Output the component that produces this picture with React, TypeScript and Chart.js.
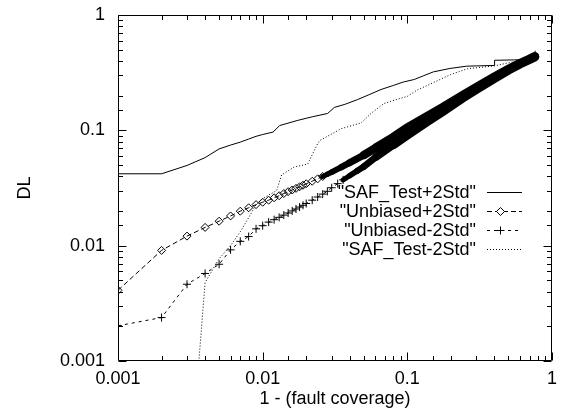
import { useEffect, useRef } from 'react';
import { Chart, registerables } from 'chart.js';

Chart.register(...registerables);

// ---- data ----
const seriesNames = ['"SAF_Test+2Std"', '"Unbiased+2Std"', '"Unbiased-2Std"', '"SAF_Test-2Std"'];
const xTickLabels = ['0.001', '0.01', '0.1', '1'];
const yTickLabels = ['0.001', '0.01', '0.1', '1'];
const xTitle = '1 - (fault coverage)';
const yTitle = 'DL';

const safPlusX = [0.001, 0.002, 0.003, 0.004, 0.005, 0.006, 0.007, 0.008, 0.009, 0.010, 0.0118, 0.0131, 0.0175, 0.022, 0.0281, 0.0313, 0.037, 0.0454, 0.055, 0.0658, 0.08, 0.0935, 0.1117, 0.13, 0.151, 0.197, 0.257, 0.30, 0.40, 0.401, 0.55, 0.68, 0.76, 0.765];
const safPlusY = [0.042, 0.042, 0.0496, 0.058, 0.069, 0.0745, 0.079, 0.084, 0.0887, 0.092, 0.0966, 0.110, 0.122, 0.131, 0.140, 0.158, 0.168, 0.185, 0.205, 0.226, 0.245, 0.262, 0.276, 0.298, 0.321, 0.344, 0.360, 0.362, 0.365, 0.405, 0.408, 0.412, 0.445, 0.49];

const unbPlusX = [0.001, 0.002, 0.003, 0.004, 0.005, 0.006, 0.007, 0.008, 0.009, 0.010, 0.011, 0.012, 0.013, 0.014, 0.015, 0.016, 0.017, 0.018, 0.019, 0.020, 0.022, 0.024, 0.026, 0.028, 0.030, 0.035, 0.040, 0.050, 0.061, 0.080, 0.100, 0.140, 0.176, 0.240, 0.300, 0.400, 0.500, 0.600, 0.700, 0.760];
const unbPlusY = [0.0041, 0.0091, 0.0121, 0.0144, 0.0163, 0.0181, 0.0199, 0.0213, 0.0227, 0.0238, 0.0248, 0.026, 0.0271, 0.0283, 0.0294, 0.0304, 0.0314, 0.0324, 0.0334, 0.0344, 0.0362, 0.038, 0.0398, 0.0416, 0.0434, 0.048, 0.0525, 0.061, 0.071, 0.087, 0.105, 0.134, 0.158, 0.20, 0.236, 0.29, 0.338, 0.38, 0.415, 0.437];

const unbMinusX = [0.001, 0.002, 0.003, 0.004, 0.005, 0.006, 0.007, 0.008, 0.009, 0.010, 0.011, 0.012, 0.013, 0.014, 0.015, 0.016, 0.017, 0.018, 0.019, 0.020, 0.022, 0.024, 0.026, 0.028, 0.030, 0.033, 0.036, 0.040, 0.045, 0.050, 0.061, 0.080, 0.100, 0.140, 0.176, 0.240, 0.300, 0.400, 0.500, 0.600, 0.700, 0.760];
const unbMinusY = [0.00202, 0.00238, 0.00463, 0.00574, 0.0069, 0.0092, 0.0109, 0.012, 0.014, 0.0149, 0.016, 0.0168, 0.0176, 0.0184, 0.0192, 0.02, 0.0208, 0.0216, 0.0224, 0.0232, 0.0248, 0.0264, 0.028, 0.0296, 0.0318, 0.0345, 0.0372, 0.0405, 0.0445, 0.0485, 0.059, 0.075, 0.091, 0.121, 0.146, 0.19, 0.226, 0.282, 0.333, 0.376, 0.411, 0.433];

const safMinusX = [0.003, 0.004, 0.005, 0.006, 0.007, 0.008, 0.009, 0.010, 0.011, 0.0125, 0.0135, 0.0165, 0.0205, 0.024, 0.025, 0.035, 0.048, 0.056, 0.069, 0.089, 0.1, 0.116, 0.15, 0.2, 0.26, 0.4, 0.55, 0.76];
const safMinusY = [0.00005, 0.0048, 0.0077, 0.0100, 0.0132, 0.0175, 0.0227, 0.0255, 0.0275, 0.030, 0.041, 0.048, 0.051, 0.077, 0.082, 0.1035, 0.116, 0.14, 0.171, 0.189, 0.197, 0.222, 0.258, 0.305, 0.342, 0.362, 0.395, 0.44];

// ---- styling ----
const FONT = '"Liberation Sans", Arial, Helvetica, sans-serif';
const FONT_SIZE = 18;
const DENSE_PLUS = 0.026;  // from here the diamonds merge into a solid band
const DENSE_MINUS = 0.036; // from here the crosses merge into a solid band

const toPoints = (xs: number[], ys: number[]) => xs.map((x, i) => ({ x, y: ys[i] }));
const isDecade = (v: number) => {
  const l = Math.log10(v);
  return Math.abs(l - Math.round(l)) < 1e-6;
};
const labelFor = (v: number, labels: string[]) => {
  const hit = labels.find((s) => Math.abs(parseFloat(s) - v) < v * 1e-6);
  return hit ?? '';
};
// band thickness grows as the markers crowd together (style only)
const bandWidth = (x: number, start: number) => {
  if (x < start) return undefined;
  return Math.min(9, 5 + 12 * Math.log10(x / start));
};

const gnuplotPlugin = {
  id: 'gnuplotFrame',
  afterDatasetsDraw(chart: any) {
    const { ctx, chartArea: a, scales } = chart;
    const L = Math.round(a.left) + 0.5;
    const R = Math.round(a.right) - 0.5;
    const T = Math.round(a.top) + 0.5;
    const B = Math.round(a.bottom) - 0.5;
    ctx.save();
    ctx.strokeStyle = '#000';
    ctx.lineWidth = 1;
    ctx.setLineDash([]);
    ctx.beginPath();
    ctx.rect(L, T, R - L, B - T);
    // inward ticks on all four sides
    for (const t of scales.x.ticks) {
      const p = Math.round(scales.x.getPixelForValue(t.value)) + 0.5;
      const len = isDecade(t.value) ? 8 : 4.5;
      ctx.moveTo(p, B); ctx.lineTo(p, B - len);
      ctx.moveTo(p, T); ctx.lineTo(p, T + len);
    }
    for (const t of scales.y.ticks) {
      const p = Math.round(scales.y.getPixelForValue(t.value)) + 0.5;
      const len = isDecade(t.value) ? 8 : 4.5;
      ctx.moveTo(L, p); ctx.lineTo(L + len, p);
      ctx.moveTo(R, p); ctx.lineTo(R - len, p);
    }
    ctx.stroke();
    ctx.restore();
  },
  afterDraw(chart: any) {
    const { ctx } = chart;
    const textRight = 476;
    const sx0 = 487;
    const sx1 = 522;
    const base0 = 197.5;
    const step = 19.3;
    ctx.save();
    ctx.font = `${FONT_SIZE}px ${FONT}`;
    ctx.fillStyle = '#000';
    ctx.textAlign = 'right';
    ctx.textBaseline = 'alphabetic';
    chart.data.datasets.forEach((ds: any, i: number) => {
      const base = base0 + i * step;
      ctx.fillText(ds.label, textRight, base);
      const ly = Math.round(base - 6) + 0.5;
      ctx.strokeStyle = '#000';
      ctx.lineWidth = 1;
      ctx.setLineDash(ds.borderDash || []);
      ctx.beginPath();
      ctx.moveTo(sx0, ly);
      ctx.lineTo(sx1, ly);
      ctx.stroke();
      ctx.setLineDash([]);
      if (ds.legendMarker) {
        const cx = (sx0 + sx1) / 2 - 4;
        ctx.beginPath();
        if (ds.legendMarker === 'diamond') {
          ctx.fillStyle = '#fff';
          ctx.moveTo(cx - 4, ly); ctx.lineTo(cx, ly - 4); ctx.lineTo(cx + 4, ly); ctx.lineTo(cx, ly + 4);
          ctx.closePath();
          ctx.fill();
        } else {
          ctx.moveTo(cx - 4, ly); ctx.lineTo(cx + 4, ly);
          ctx.moveTo(cx, ly - 4); ctx.lineTo(cx, ly + 4);
        }
        ctx.stroke();
        ctx.fillStyle = '#000';
      }
    });
    ctx.restore();
  },
};

export default function App() {
  const ref = useRef<HTMLCanvasElement | null>(null);

  useEffect(() => {
    document.body.style.margin = '0';
    const canvas = ref.current;
    if (!canvas) return;

    const chart = new Chart(canvas, {
      type: 'line',
      data: {
        datasets: [
          {
            label: seriesNames[0],
            data: toPoints(safPlusX, safPlusY),
            borderColor: '#000',
            borderWidth: 1,
            pointRadius: 0,
          },
          {
            label: seriesNames[1],
            data: toPoints(unbPlusX, unbPlusY),
            borderColor: '#000',
            borderWidth: 1,
            borderDash: [5, 3],
            pointStyle: 'rectRot',
            pointRadius: (c: any) => (c.raw && c.raw.x > DENSE_PLUS ? 0 : 4),
            pointBorderColor: '#000',
            pointBackgroundColor: 'rgba(0,0,0,0)',
            pointBorderWidth: 1,
            legendMarker: 'diamond',
            segment: {
              borderWidth: (c: any) => bandWidth(c.p0.parsed.x, DENSE_PLUS),
              borderDash: (c: any) => (c.p0.parsed.x >= DENSE_PLUS ? [] : undefined),
              borderCapStyle: (c: any) => (c.p0.parsed.x >= DENSE_PLUS ? 'round' : undefined),
            },
          } as any,
          {
            label: seriesNames[2],
            data: toPoints(unbMinusX, unbMinusY),
            borderColor: '#000',
            borderWidth: 1,
            borderDash: [3, 4],
            pointStyle: 'cross',
            pointRadius: (c: any) => (c.raw && c.raw.x > DENSE_MINUS ? 0 : 4),
            pointBorderColor: '#000',
            pointBorderWidth: 1,
            legendMarker: 'cross',
            segment: {
              borderWidth: (c: any) => bandWidth(c.p0.parsed.x, DENSE_MINUS),
              borderDash: (c: any) => (c.p0.parsed.x >= DENSE_MINUS ? [] : undefined),
              borderCapStyle: (c: any) => (c.p0.parsed.x >= DENSE_MINUS ? 'round' : undefined),
            },
          } as any,
          {
            label: seriesNames[3],
            data: toPoints(safMinusX, safMinusY),
            borderColor: '#000',
            borderWidth: 1,
            borderDash: [1, 2],
            pointRadius: 0,
          },
        ],
      },
      options: {
        animation: false,
        responsive: false,
        devicePixelRatio: 1,
        layout: { padding: { top: 15, right: 10, left: 0, bottom: 0 } },
        plugins: {
          legend: { display: false },
          tooltip: { enabled: false },
        },
        elements: { line: { tension: 0 } },
        scales: {
          x: {
            type: 'logarithmic',
            min: 0.001,
            max: 1,
            grid: { display: false, drawTicks: false },
            border: { display: false },
            ticks: {
              autoSkip: false,
              maxRotation: 0,
              padding: 7,
              color: '#000',
              font: { family: FONT, size: FONT_SIZE },
              callback: (v: any) => labelFor(Number(v), xTickLabels),
            },
            title: {
              display: true,
              text: xTitle,
              color: '#000',
              font: { family: FONT, size: FONT_SIZE },
              padding: { top: 0, bottom: 3 },
            },
            afterFit: (s: any) => {
              s.height = 52;
              s.paddingLeft = 0;
              s.paddingRight = 0;
            },
          },
          y: {
            type: 'logarithmic',
            min: 0.001,
            max: 1,
            grid: { display: false, drawTicks: false },
            border: { display: false },
            ticks: {
              autoSkip: false,
              padding: 13,
              color: '#000',
              font: { family: FONT, size: FONT_SIZE },
              callback: (v: any) => labelFor(Number(v), yTickLabels),
            },
            title: {
              display: true,
              text: yTitle,
              color: '#000',
              font: { family: FONT, size: FONT_SIZE },
              padding: { top: 14, bottom: 0 },
            },
            afterFit: (s: any) => {
              s.width = 118;
              s.paddingTop = 0;
              s.paddingBottom = 0;
            },
          },
        },
      } as any,
      plugins: [gnuplotPlugin],
    });

    return () => chart.destroy();
  }, []);

  return <canvas ref={ref} width={562} height={413} style={{ display: 'block' }} />;
}
